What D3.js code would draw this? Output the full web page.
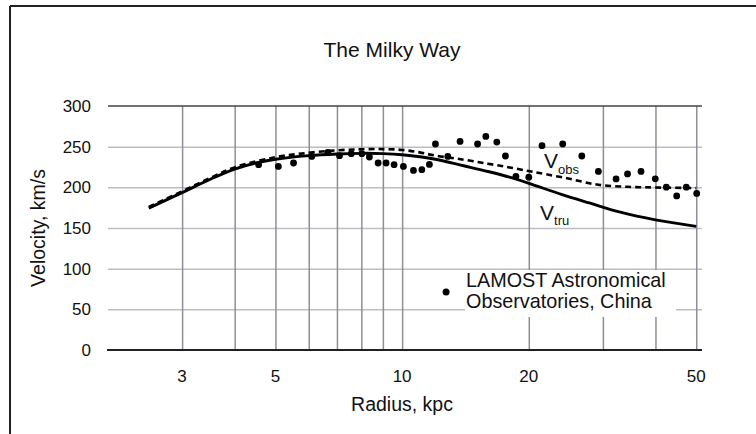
<!DOCTYPE html>
<html>
<head>
<meta charset="utf-8">
<script src="https://cdn.jsdelivr.net/npm/d3@7"></script>
<style>
  body { margin: 0; background: #fff; }
  svg text { font-family: "Liberation Sans", Arial, sans-serif; fill: #111; }
</style>
</head>
<body>
<svg id="chart" width="756" height="434"></svg>
<script>
// grid and tick values
var xGrid = [3, 4, 5, 6, 7, 8, 9, 10, 20, 30, 40, 50];
var xLabels = [3, 5, 10, 20, 50];
var yTicks = [0, 50, 100, 150, 200, 250, 300];

// V_tru (solid curve)
var truR = [2.5, 3, 3.5, 4, 4.5, 5, 6, 7, 8, 9, 10, 12, 14, 16, 18, 20, 24, 28, 33, 40, 50];
var truV = [174.5, 193.5, 210, 222.5, 230, 234.5, 239, 241, 241.8, 241.5, 240, 234.5, 226.5, 219.5, 212.5, 205, 191, 180.5, 169.5, 160, 152];

// V_obs (dashed curve)
var obsR = [2.5, 3, 3.5, 4, 5, 6, 7, 8, 9, 10, 11, 12, 14, 16, 18, 20, 22, 25, 28, 30, 33, 36, 40, 50];
var obsV = [176, 195, 211.5, 224.5, 237, 242.5, 245.5, 246.8, 247, 246, 243, 239, 234, 229, 224.5, 220, 216, 210.5, 204.8, 202.5, 201, 200.3, 199.8, 199];

// LAMOST points
var dotR = [4.56, 5.08, 5.52, 6.1, 6.66, 7.1, 7.57, 8.02, 8.36, 8.77, 9.16, 9.57, 10.07, 10.64, 11.14, 11.61,
            12.0, 12.84, 13.73, 15.11, 15.81, 16.79, 17.6, 18.64, 20.0, 21.5, 24.08, 26.73, 29.27, 32.24,
            34.33, 36.96, 39.96, 42.45, 44.93, 47.35, 50.12];
var dotV = [227.8, 225.7, 229.9, 238, 243, 238.9, 241.4, 241.4, 237.3, 229.9, 229.9, 227.8, 225.7, 220.8, 221.7, 228.2,
            253.3, 238, 256.5, 253.3, 262.6, 255.7, 238.5, 213.5, 212.5, 251.2, 253.3, 238.5, 219.6, 210.3,
            216.5, 219.6, 210.4, 200.2, 189.4, 200.2, 192.5];

var svg = d3.select("#chart");

var x = d3.scaleLog().domain([2, 51.6]).range([108, 702]);
var y = d3.scaleLinear().domain([0, 300]).range([350, 106]);

// outer frame (top + left edges)
svg.append("line").attr("x1", 10).attr("x2", 756).attr("y1", 6).attr("y2", 6)
    .style("stroke", "#222").style("stroke-width", 2);
svg.append("line").attr("x1", 10).attr("x2", 10).attr("y1", 6).attr("y2", 434)
    .style("stroke", "#222").style("stroke-width", 2);

// horizontal grid
svg.append("g")
    .attr("transform", "translate(108,0)")
    .call(d3.axisLeft(y).tickValues(yTicks.slice(1, -1)).tickSize(-594).tickFormat(""))
    .call(function(g) {
      g.select(".domain").remove();
      g.selectAll("line").style("stroke", "#bdbdc2").style("stroke-width", 1.5);
    });

// vertical grid
svg.append("g")
    .attr("transform", "translate(0,350)")
    .call(d3.axisBottom(x).tickValues(xGrid).tickSize(-244).tickFormat(""))
    .call(function(g) {
      g.select(".domain").remove();
      g.selectAll("line").style("stroke", "#8e8e96").style("stroke-width", 1.5);
    });

// top and bottom border of plot
svg.append("line").attr("x1", 108).attr("x2", 702).attr("y1", y(300)).attr("y2", y(300))
    .style("stroke", "#444").style("stroke-width", 1.5);
svg.append("line").attr("x1", 107).attr("x2", 702).attr("y1", y(0)).attr("y2", y(0))
    .style("stroke", "#222").style("stroke-width", 2);

// y labels
svg.append("g").selectAll("text")
    .data(yTicks).enter().append("text")
    .attr("x", 91)
    .attr("y", function(d) { return y(d); })
    .attr("dy", "0.36em")
    .attr("text-anchor", "end")
    .style("font-size", "17px")
    .text(function(d) { return d; });

// x labels
svg.append("g").selectAll("text")
    .data(xLabels).enter().append("text")
    .attr("x", function(d) { return x(d); })
    .attr("y", 382)
    .attr("text-anchor", "middle")
    .style("font-size", "17px")
    .text(function(d) { return d; });

// white box behind the legend text
svg.append("rect").attr("x", 465).attr("y", 270).attr("width", 211).attr("height", 47)
    .style("fill", "#fff");

var line = d3.line()
    .x(function(d) { return x(d[0]); })
    .y(function(d) { return y(d[1]); })
    .curve(d3.curveCatmullRom.alpha(0.5));

svg.append("path")
    .datum(d3.zip(truR, truV))
    .attr("d", line)
    .style("fill", "none").style("stroke", "#000").style("stroke-width", 2.9);

svg.append("path")
    .datum(d3.zip(obsR, obsV))
    .attr("d", line)
    .style("fill", "none").style("stroke", "#000").style("stroke-width", 2.6)
    .style("stroke-dasharray", "6,4");

svg.append("g").selectAll("circle")
    .data(d3.zip(dotR, dotV)).enter().append("circle")
    .attr("cx", function(d) { return x(d[0]); })
    .attr("cy", function(d) { return y(d[1]); })
    .attr("r", 3.4)
    .style("fill", "#000");

// title and axis titles
svg.append("text").attr("x", 392).attr("y", 57).attr("text-anchor", "middle")
    .style("font-size", "21px").text("The Milky Way");
svg.append("text").attr("x", 402).attr("y", 411).attr("text-anchor", "middle")
    .style("font-size", "19.5px").text("Radius, kpc");
svg.append("text")
    .attr("transform", "translate(45,228) rotate(-90)")
    .attr("text-anchor", "middle")
    .style("font-size", "19.5px").text("Velocity, km/s");

// curve labels
var lo = svg.append("text").attr("x", 544).attr("y", 168).style("font-size", "21px");
lo.append("tspan").text("V");
lo.append("tspan").attr("dy", 6).style("font-size", "13px").text("obs");
var lt = svg.append("text").attr("x", 540).attr("y", 220).style("font-size", "21px");
lt.append("tspan").text("V");
lt.append("tspan").attr("dy", 5).style("font-size", "13px").text("tru");

// legend
svg.append("circle").attr("cx", x(12.72)).attr("cy", 292).attr("r", 3.5).style("fill", "#000");
var leg = svg.append("text").attr("x", 466).attr("y", 287).style("font-size", "19.8px");
leg.append("tspan").attr("x", 466).text("LAMOST Astronomical");
leg.append("tspan").attr("x", 466).attr("dy", 21).text("Observatories, China");
</script>
</body>
</html>
